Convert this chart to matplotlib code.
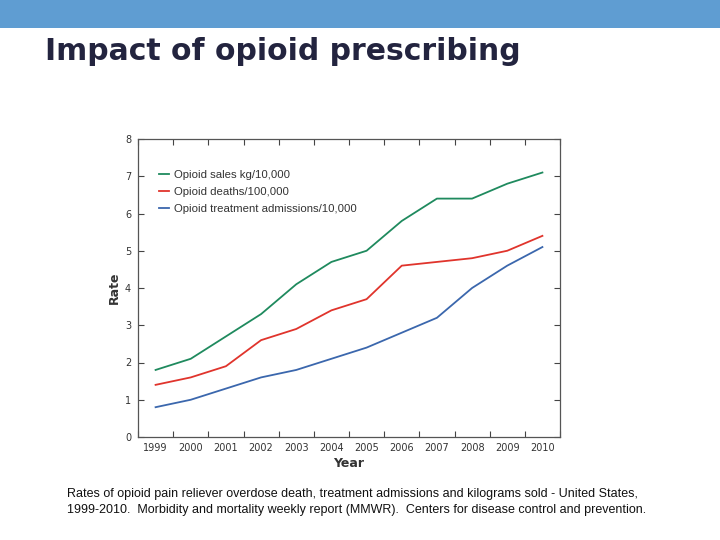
import matplotlib.pyplot as plt
from matplotlib.patches import Rectangle
from matplotlib.ticker import MultipleLocator

# ── Data ─────────────────────────────────────────────────────
YEARS      = [1999, 2000, 2001, 2002, 2003, 2004, 2005, 2006, 2007, 2008, 2009, 2010]
SALES      = [1.8, 2.1, 2.7, 3.3, 4.1, 4.7, 5.0, 5.8, 6.4, 6.4, 6.8, 7.1]
DEATHS     = [1.4, 1.6, 1.9, 2.6, 2.9, 3.4, 3.7, 4.6, 4.7, 4.8, 5.0, 5.4]
ADMISSIONS = [0.8, 1.0, 1.3, 1.6, 1.8, 2.1, 2.4, 2.8, 3.2, 4.0, 4.6, 5.1]
LABELS     = ['Opioid sales kg/10,000', 'Opioid deaths/100,000',
              'Opioid treatment admissions/10,000']
COLORS     = ['#1f8a5e', '#e0342c', '#3b67ad']

TITLE   = 'Impact of opioid prescribing'
CAPTION = ('Rates of opioid pain reliever overdose death, treatment admissions and kilograms sold - United States,\n'
           '1999-2010.  Morbidity and mortality weekly report (MMWR).  Centers for disease control and prevention.')

plt.rcParams['font.family'] = ['Liberation Sans', 'DejaVu Sans']

fig = plt.figure(figsize=(7.2, 5.4), dpi=100)
W, H = 720, 540

# top banner
fig.add_artist(Rectangle((0, 1 - 28 / H), 1, 28 / H, transform=fig.transFigure,
                         color='#5f9dd2', lw=0))
fig.text(45 / W, 1 - 51 / H, TITLE, fontsize=21.5, fontweight='bold',
         family='DejaVu Sans', color='#23243f', va='center', ha='left')
fig.text(67 / W, 1 - 502 / H, CAPTION, fontsize=9, color='#111111',
         va='center', ha='left', linespacing=1.4)

# axes: x 138..560, y 139..437
ax = fig.add_axes([138 / W, 1 - 437 / H, (560 - 138) / W, (437 - 139) / H])
for vals, lab, col in zip([SALES, DEATHS, ADMISSIONS], LABELS, COLORS):
    ax.plot(YEARS, vals, color=col, lw=1.3, label=lab)

ax.set_xlim(1998.5, 2010.5)
ax.set_ylim(0, 8)
ax.set_xticks(YEARS)
ax.xaxis.set_minor_locator(MultipleLocator(1, offset=0.5))
ax.yaxis.set_major_locator(MultipleLocator(1))
ax.tick_params(axis='x', which='major', length=0, labelsize=7, pad=4, colors='#333333')
ax.tick_params(axis='x', which='minor', direction='in', length=4, top=True, bottom=True,
               width=0.8, color='#444444')
ax.tick_params(axis='y', which='major', direction='in', length=4, left=True, right=True,
               labelsize=7, width=0.8, color='#444444', labelcolor='#333333', pad=5)
for lbl in ax.get_xticklabels() + ax.get_yticklabels():
    lbl.set_family('DejaVu Sans')
for s in ax.spines.values():
    s.set_color('#555555')
    s.set_linewidth(0.9)

ax.set_xlabel('Year', fontsize=9, fontweight='bold', color='#333333', labelpad=3,
              family='DejaVu Sans')
ax.set_ylabel('Rate', fontsize=9, fontweight='bold', color='#333333', labelpad=3,
              family='DejaVu Sans')

ax.legend(loc='upper left', bbox_to_anchor=(0.025, 0.93), frameon=False, fontsize=8.2,
          handlelength=0.9, handletextpad=0.4, labelspacing=0.63, labelcolor='#333333')

fig.savefig('out.png', dpi=100)
